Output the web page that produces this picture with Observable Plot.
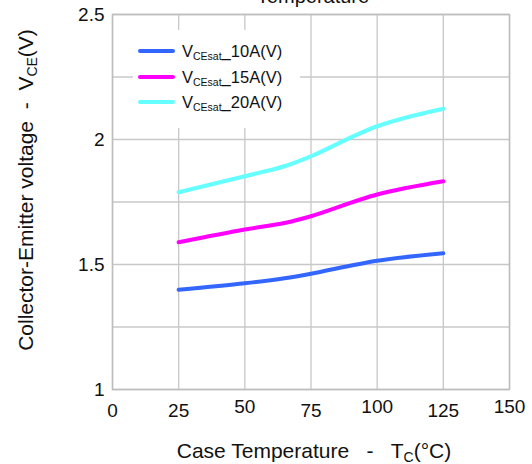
<!DOCTYPE html>
<html>
<head>
<meta charset="utf-8">
<script src="https://cdn.jsdelivr.net/npm/d3@7"></script>
<script src="https://cdn.jsdelivr.net/npm/@observablehq/plot@0.6"></script>
<style>
  html, body { margin: 0; padding: 0; background: #fff; }
  #chart { position: relative; width: 532px; height: 464px; overflow: hidden; }
  svg text { font-family: "Liberation Sans", Arial, sans-serif; }
  .pre { white-space: pre; }
</style>
</head>
<body>
<div id="chart"></div>
<script>
// Data
const temps = [25, 50, 65, 75, 100, 125];
const vce10A = [1.399, 1.425, 1.445, 1.463, 1.515, 1.545];
const vce15A = [1.589, 1.640, 1.666, 1.693, 1.780, 1.833];
const vce20A = [1.789, 1.853, 1.893, 1.933, 2.053, 2.123];
const seriesNames = ["10A", "15A", "20A"];
const seriesColors = ["#3366FF", "#FF00FF", "#66FFFF"];
const xTicksLow = [0, 25, 75, 125];
const xTicksHigh = [50, 100, 150];
const yTicks = [1, 1.5, 2, 2.5];
const xGrid = [0, 25, 50, 75, 100, 125, 150];
const yGrid = [1, 1.25, 1.5, 1.75, 2, 2.25, 2.5];
const titleText = "Temperature";

const allSeries = [vce10A, vce15A, vce20A];
const rows = [];
allSeries.forEach((vals, i) => {
  temps.forEach((t, j) => rows.push({ series: seriesNames[i], t, v: vals[j] }));
});

const font = '"Liberation Sans", Arial, sans-serif';
const plot = Plot.plot({
  width: 532,
  height: 464,
  marginLeft: 112,
  marginRight: 23,
  marginTop: 14,
  marginBottom: 75,
  style: { fontFamily: font, background: "#fff", overflow: "hidden" },
  x: { domain: [0, 150], label: null },
  y: { domain: [1, 2.5], label: null },
  color: { domain: seriesNames, range: seriesColors },
  marks: [
    Plot.ruleX(xGrid, { stroke: "#c8c8c8", strokeWidth: 1.3 }),
    Plot.ruleY(yGrid, { stroke: "#c8c8c8", strokeWidth: 1.3 }),
    Plot.frame({ stroke: "#bdbdbd", strokeWidth: 1.5 }),
    Plot.axisX(xTicksLow, { tickSize: 0, tickPadding: 14, fontSize: 19, fill: "#111", tickFormat: d => String(d) }),
    Plot.axisX(xTicksHigh, { tickSize: 0, tickPadding: 10, fontSize: 19, fill: "#111", tickFormat: d => String(d) }),
    Plot.axisY(yTicks, { tickSize: 0, tickPadding: 8, fontSize: 19, fill: "#111", tickFormat: d => String(d) }),
    Plot.line(rows, { x: "t", y: "v", z: "series", stroke: "series", strokeWidth: 4, curve: "catmull-rom" })
  ]
});
document.getElementById("chart").appendChild(plot);

const svg = d3.select(plot);

// Title (partially cut off at top, as in the reference)
svg.append("text")
  .attr("x", 313).attr("y", 3)
  .attr("text-anchor", "middle")
  .attr("font-size", 20).attr("fill", "#111")
  .text(titleText);

// Legend box
const lg = svg.append("g");
lg.append("rect").attr("x", 133).attr("y", 30).attr("width", 167).attr("height", 98).attr("fill", "#fff");
const rowsY = [51, 77, 102];
seriesNames.forEach((name, i) => {
  lg.append("line")
    .attr("x1", 140).attr("x2", 173)
    .attr("y1", rowsY[i]).attr("y2", rowsY[i])
    .attr("stroke", seriesColors[i]).attr("stroke-width", 4).attr("stroke-linecap", "round");
  const t = lg.append("text").attr("x", 182).attr("y", rowsY[i] + 6)
    .attr("text-anchor", "start")
    .attr("font-size", 16.5).attr("fill", "#111");
  t.append("tspan").text("V");
  t.append("tspan").attr("font-size", 10.5).attr("dy", 3).text("CEsat");
  t.append("tspan").attr("dy", -3).text("_" + name + "(V)");
});

// Axis titles with subscripts
const xl = svg.append("text").attr("class", "pre").attr("x", 314).attr("y", 458)
  .attr("text-anchor", "middle").attr("font-size", 21).attr("fill", "#111");
xl.append("tspan").text("Case Temperature   -   T");
xl.append("tspan").attr("font-size", 14).attr("dy", 4).text("C");
xl.append("tspan").attr("dy", -4).text("(°C)");

const yl = svg.append("text").attr("class", "pre")
  .attr("transform", "translate(33,190) rotate(-90)")
  .attr("text-anchor", "middle").attr("font-size", 21).attr("fill", "#111");
yl.append("tspan").text("Collector-Emitter voltage  -  V");
yl.append("tspan").attr("font-size", 14).attr("dy", 4).text("CE");
yl.append("tspan").attr("dy", -4).text("(V)");
</script>
</body>
</html>
